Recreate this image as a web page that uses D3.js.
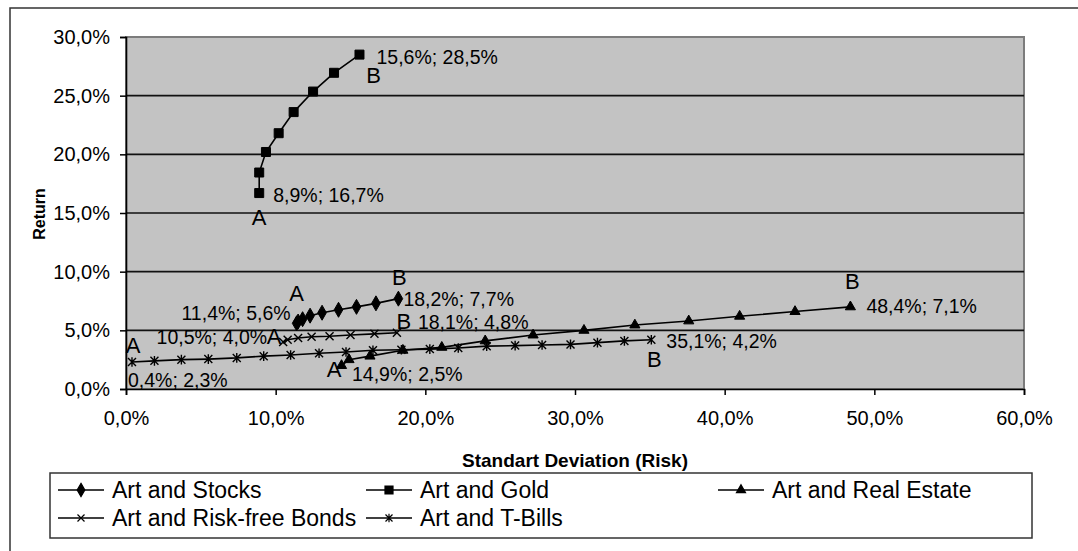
<!DOCTYPE html>
<html>
<head>
<meta charset="utf-8">
<script src="https://cdn.jsdelivr.net/npm/d3@7"></script>
<style>
  body { margin: 0; background: #fff; }
  text { font-family: "Liberation Sans", Arial, sans-serif; fill: #000; }
</style>
</head>
<body>
<script>
var width = 1078,
  height = 551;

// Data (standard deviation %, return %)
var seriesNames = ["Art and Stocks", "Art and Gold", "Art and Real Estate", "Art and Risk-free Bonds", "Art and T-Bills"];

var stocksRisk = [11.4, 11.5, 11.8, 12.3, 13.1, 14.2, 15.4, 16.7, 18.2];
var stocksReturn = [5.6, 5.75, 5.95, 6.25, 6.5, 6.75, 7.0, 7.3, 7.7];

var goldRisk = [8.9, 8.9, 9.35, 10.2, 11.2, 12.5, 13.9, 15.6];
var goldReturn = [16.7, 18.45, 20.2, 21.8, 23.6, 25.35, 26.95, 28.5];

var realEstateRisk = [14.4, 14.9, 16.3, 18.5, 21.1, 24.0, 27.2, 30.6, 34.0, 37.6, 41.0, 44.7, 48.4];
var realEstateReturn = [2.0, 2.5, 2.8, 3.3, 3.55, 4.1, 4.6, 5.0, 5.45, 5.8, 6.2, 6.6, 7.0];

var bondsRisk = [10.5, 10.8, 11.5, 12.4, 13.6, 15.0, 16.6, 18.1];
var bondsReturn = [4.0, 4.2, 4.35, 4.45, 4.5, 4.6, 4.7, 4.8];

var billsRisk = [0.4, 1.9, 3.7, 5.5, 7.4, 9.2, 11.0, 12.9, 14.7, 16.5, 18.4, 20.3, 22.2, 24.1, 26.0, 27.8, 29.7, 31.5, 33.3, 35.1];
var billsReturn = [2.3, 2.4, 2.5, 2.55, 2.65, 2.8, 2.9, 3.05, 3.15, 3.3, 3.35, 3.4, 3.5, 3.65, 3.7, 3.75, 3.8, 3.95, 4.1, 4.2];

var xTicks = [0, 10, 20, 30, 40, 50, 60];
var yTicks = [0, 5, 10, 15, 20, 25, 30];

// end point labels: [value text at A, value text at B]
var stocksLabels = ["11,4%; 5,6%", "18,2%; 7,7%"];
var goldLabels = ["8,9%; 16,7%", "15,6%; 28,5%"];
var realEstateLabels = ["14,9%; 2,5%", "48,4%; 7,1%"];
var bondsLabels = ["10,5%; 4,0%", "18,1%; 4,8%"];
var billsLabels = ["0,4%; 2,3%", "35,1%; 4,2%"];

function zip(a, b) { return a.map(function (d, i) { return [d, b[i]]; }); }

var series = [
  { name: seriesNames[0], pts: zip(stocksRisk, stocksReturn), sym: "diamond", labels: stocksLabels },
  { name: seriesNames[1], pts: zip(goldRisk, goldReturn), sym: "square", labels: goldLabels },
  { name: seriesNames[2], pts: zip(realEstateRisk, realEstateReturn), sym: "triangle", labels: realEstateLabels },
  { name: seriesNames[3], pts: zip(bondsRisk, bondsReturn), sym: "cross", labels: bondsLabels },
  { name: seriesNames[4], pts: zip(billsRisk, billsReturn), sym: "star", labels: billsLabels }
];

var fmt = function (v) { return d3.format(".1f")(v).replace(".", ",") + "%"; };

var svg = d3.select("body").append("svg")
  .attr("width", width)
  .attr("height", height);

// outer chart frame
svg.append("rect")
  .attr("x", 10).attr("y", 8)
  .attr("width", 1090).attr("height", 570)
  .attr("fill", "#fff")
  .attr("stroke", "#333")
  .attr("stroke-width", 1.5);

var x = d3.scaleLinear().domain([0, 60]).range([126, 1024]);
var y = d3.scaleLinear().domain([0, 30]).range([389, 37]);

// plot area
svg.append("rect")
  .attr("x", x(0)).attr("y", y(30))
  .attr("width", x(60) - x(0)).attr("height", y(0) - y(30))
  .attr("fill", "#c3c3c3")
  .attr("stroke", "#7c7c7c")
  .attr("stroke-width", 2);

// horizontal gridlines
svg.append("g").selectAll("line")
  .data(yTicks.filter(function (d) { return d > 0 && d < 30; }))
  .enter().append("line")
  .attr("x1", x(0)).attr("x2", x(60))
  .attr("y1", function (d) { return y(d); })
  .attr("y2", function (d) { return y(d); })
  .attr("stroke", "#111")
  .attr("stroke-width", 1.6);

// axes
var xAxis = svg.append("g")
  .attr("transform", "translate(0," + y(0) + ")")
  .call(d3.axisBottom(x).tickValues(xTicks).tickFormat(fmt).tickSizeOuter(0).tickSize(6).tickPadding(16));

var yAxis = svg.append("g")
  .attr("transform", "translate(" + x(0) + ",0)")
  .call(d3.axisLeft(y).tickValues(yTicks).tickFormat(fmt).tickSizeOuter(0).tickSize(6).tickPadding(10));

[xAxis, yAxis].forEach(function (a) {
  a.select(".domain").attr("stroke", "#000").attr("stroke-width", 1.6);
  a.selectAll(".tick line").attr("stroke", "#000").attr("stroke-width", 1.5);
  a.selectAll(".tick text")
    .attr("fill", "#222")
    .style("font-family", "'Liberation Sans', Arial, sans-serif")
    .style("font-size", "20px");
});

// axis titles
svg.append("text")
  .attr("x", 575).attr("y", 467)
  .attr("text-anchor", "middle")
  .style("font-size", "19px")
  .style("font-weight", "bold")
  .text("Standart Deviation (Risk)");

svg.append("text")
  .attr("transform", "translate(45,214)rotate(-90)")
  .attr("text-anchor", "middle")
  .style("font-size", "16px")
  .style("font-weight", "bold")
  .text("Return");

// markers
function markerPath(sym, s) {
  if (sym === "diamond") return d3.symbol(d3.symbolDiamond, s * s * 0.8)();
  if (sym === "square") return d3.symbol(d3.symbolSquare, s * s)();
  if (sym === "triangle") return d3.symbol(d3.symbolTriangle, s * s * 0.55)();
  var h = s / 2;
  if (sym === "cross") return "M" + -h + "," + -h + "L" + h + "," + h + "M" + -h + "," + h + "L" + h + "," + -h;
  // asterisk
  return "M" + -h + "," + -h + "L" + h + "," + h + "M" + -h + "," + h + "L" + h + "," + -h + "M0," + -h * 1.2 + "L0," + h * 1.2;
}

var line = d3.line()
  .x(function (d) { return x(d[0]); })
  .y(function (d) { return y(d[1]); });

var sg = svg.append("g").selectAll("g")
  .data(series)
  .enter().append("g");

sg.append("path")
  .attr("d", function (d) { return line(d.pts); })
  .attr("fill", "none")
  .attr("stroke", "#000")
  .attr("stroke-width", 1.6);

sg.each(function (s) {
  var open = s.sym === "cross" || s.sym === "star";
  d3.select(this).selectAll(".m")
    .data(s.pts)
    .enter().append("path")
    .attr("class", "m")
    .attr("transform", function (d) { return "translate(" + x(d[0]) + "," + y(d[1]) + ")"; })
    .attr("d", markerPath(s.sym, open ? 8 : 9))
    .attr("fill", open ? "none" : "#000")
    .attr("stroke", "#000")
    .attr("stroke-width", open ? 1.4 : 1);
});

// end point labels, offsets relative to the first (A) and last (B) point of each series
var labelLayout = [
  { a: [-6, -10, "end"], la: [0, -30], b: [5, 1, "start"], lb: [1, -21] },
  { a: [14, 2, "start"], la: [0, 24], b: [17, 3, "start"], lb: [14, 21] },
  { a: [3, 15, "start"], la: [-15, 10], b: [16, -1, "start"], lb: [2, -26] },
  { a: [-16, -5, "end"], la: [-9, -6], b: [21, -11, "start"], lb: [7, -11] },
  { a: [-4, 18, "start"], la: [1, -17], b: [15, 1, "start"], lb: [3, 20] }
];

series.forEach(function (s, i) {
  var L = labelLayout[i];
  var pa = s.pts[0], pb = s.pts[s.pts.length - 1];
  if (i === 2) pa = s.pts[1];
  var g = svg.append("g");
  g.append("text")
    .attr("x", x(pa[0]) + L.a[0]).attr("y", y(pa[1]) + L.a[1])
    .attr("dy", "0.35em").attr("text-anchor", L.a[2])
    .style("font-size", "19.5px").attr("fill", "#222")
    .text(s.labels[0]);
  g.append("text")
    .attr("x", x(pb[0]) + L.b[0]).attr("y", y(pb[1]) + L.b[1])
    .attr("dy", "0.35em").attr("text-anchor", L.b[2])
    .style("font-size", "19.5px").attr("fill", "#222")
    .text(s.labels[1]);
  g.append("text")
    .attr("x", x(pa[0]) + L.la[0]).attr("y", y(pa[1]) + L.la[1])
    .attr("dy", "0.35em").attr("text-anchor", "middle")
    .style("font-size", "22px")
    .text("A");
  g.append("text")
    .attr("x", x(pb[0]) + L.lb[0]).attr("y", y(pb[1]) + L.lb[1])
    .attr("dy", "0.35em").attr("text-anchor", "middle")
    .style("font-size", "22px")
    .text("B");
});

// legend
var legend = svg.append("g");
legend.append("rect")
  .attr("x", 50).attr("y", 473)
  .attr("width", 982).attr("height", 65)
  .attr("fill", "#fff")
  .attr("stroke", "#333")
  .attr("stroke-width", 1.5);

var legendPos = [[58, 490], [366, 490], [718, 490], [58, 518], [366, 518]];

var li = legend.selectAll(".li")
  .data(series)
  .enter().append("g")
  .attr("class", "li")
  .attr("transform", function (d, i) { return "translate(" + legendPos[i][0] + "," + legendPos[i][1] + ")"; });

li.append("line")
  .attr("x1", 0).attr("x2", 46)
  .attr("stroke", "#000").attr("stroke-width", 1.6);

li.append("path")
  .attr("transform", "translate(23,0)")
  .attr("d", function (d) { return markerPath(d.sym, d.sym === "cross" || d.sym === "star" ? 7 : 8); })
  .attr("fill", function (d) { return d.sym === "cross" || d.sym === "star" ? "none" : "#000"; })
  .attr("stroke", "#000").attr("stroke-width", 1.2);

li.append("text")
  .attr("x", 54).attr("dy", "0.35em")
  .style("font-size", "23px")
  .attr("fill", "#222")
  .text(function (d) { return d.name; });
</script>
</body>
</html>
